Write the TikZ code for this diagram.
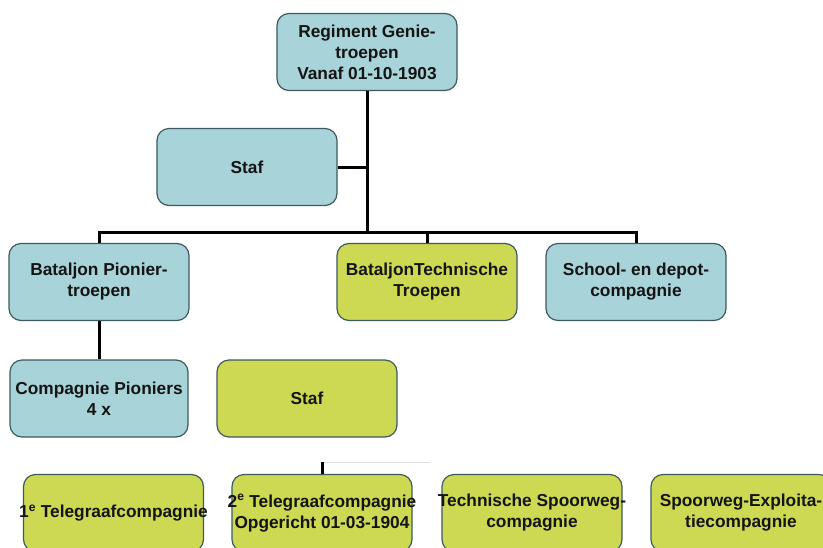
\documentclass[tikz,border=0pt]{standalone}
\usepackage{fontspec}
\setmainfont{Liberation Sans}
\definecolor{boxblue}{RGB}{168,211,217}
\definecolor{boxgreen}{RGB}{205,217,82}
\definecolor{boxedge}{RGB}{60,90,96}
\definecolor{txt}{RGB}{20,20,20}
\newcommand{\fitline}[1]{\makebox[170pt][c]{#1}}
\begin{document}
\begin{tikzpicture}[x=1pt,y=-1pt,
  orgbox/.style={draw=boxedge,line width=1.2pt,rounded corners=12pt,
    minimum width=180pt,minimum height=77pt,inner sep=0pt,align=center,
    font=\fontsize{17.3}{21}\selectfont\bfseries,text=txt},
  bluebox/.style={orgbox,fill=boxblue},
  greenbox/.style={orgbox,fill=boxgreen},
  conn/.style={line width=3pt,black}]
\useasboundingbox (0,0) rectangle (823,547);
\clip (0,0) rectangle (823,547);
% nodes
\node[bluebox] (top) at (367,52) {Regiment Genie-\\troepen\\Vanaf 01-10-1903};
\node[bluebox] (staf1) at (247,167) {Staf};
\node[bluebox] (bp) at (99,282) {Bataljon Pionier-\\troepen};
\node[greenbox] (bt) at (427,282) {\fitline{BataljonTechnische}\\Troepen};
\node[bluebox] (school) at (636,282) {School- en depot-\\compagnie};
\node[bluebox,minimum width=178pt] (cp) at (99,398.5) {\fitline{Compagnie Pioniers}\\4 x};
\node[greenbox] (staf2) at (307,398.5) {Staf};
\node[greenbox] (t1) at (113.5,513) {\fitline{1\textsuperscript{e} Telegraafcompagnie}};
\node[greenbox] (t2) at (322,513) {\fitline{2\textsuperscript{e} Telegraafcompagnie}\\Opgericht 01-03-1904};
\node[greenbox] (ts) at (532,513) {\fitline{Technische Spoorweg-}\\compagnie};
\node[greenbox] (se) at (741,513) {\fitline{Spoorweg-Exploita-}\\tiecompagnie};
% connectors
\coordinate (bus) at (367,232);
\coordinate (stub) at (322,462);
\coordinate (stubend) at (430,462);
\draw[conn] (top.south) -- (bus);
\draw[conn] (staf1.east) -- (staf1.east -| bus);
\draw[conn] (bp.north) -- (bp.north |- bus) -| (school.north);
\draw[conn] (bt.north) -- (bt.north |- bus);
\draw[conn] (bp.south) -- (cp.north);
\draw[line width=0.8pt,black!12] (stub) -- (stubend);
\draw[conn] (stub) -- (t2.north);
\end{tikzpicture}
\end{document}
